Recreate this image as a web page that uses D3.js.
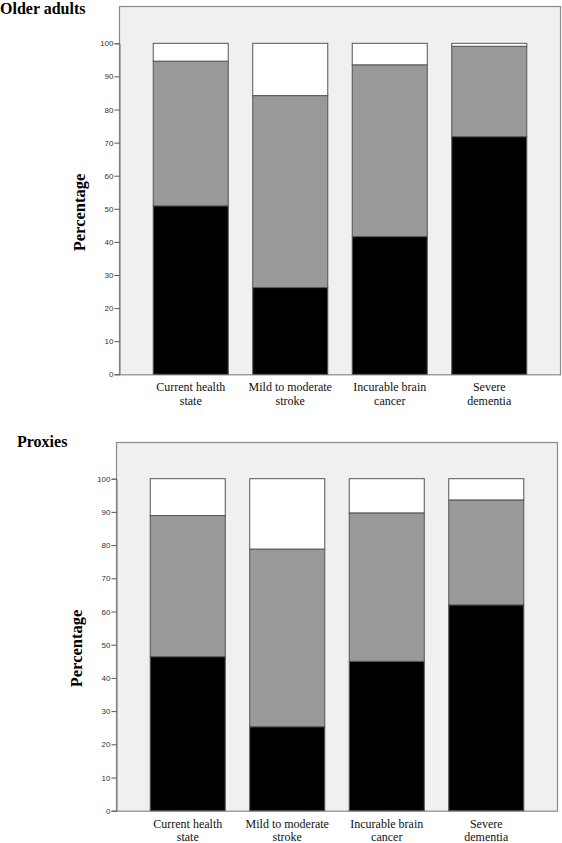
<!DOCTYPE html>
<html><head><meta charset="utf-8">
<script src="https://cdn.jsdelivr.net/npm/d3@7"></script>
<style>html,body{margin:0;padding:0;background:#fff}svg{display:block}
.serif{font-family:"Liberation Serif","Times New Roman",serif}
.sans{font-family:"Liberation Sans",Arial,sans-serif}</style>
</head><body>
<svg id="chart" width="562" height="843"></svg>
<script>
const categories = ["Current health state","Mild to moderate stroke","Incurable brain cancer","Severe dementia"];
const categoryLines = [["Current health","state"],["Mild to moderate","stroke"],["Incurable brain","cancer"],["Severe","dementia"]];
const seriesKeys = ["black","gray","white"];
const olderBlack = [50.9, 26.2, 41.6, 71.8];
const olderGray  = [43.7, 58.0, 51.9, 27.3];
const olderWhite = [5.4, 15.8, 6.5, 0.9];
const proxyBlack = [46.4, 25.3, 45.0, 62.0];
const proxyGray  = [42.5, 53.5, 44.7, 31.6];
const proxyWhite = [11.1, 21.2, 10.3, 6.4];
const yTicks = [0,10,20,30,40,50,60,70,80,90,100];
const panelTitles = ["Older adults","Proxies"];
const yLabel = "Percentage";

const svg = d3.select("#chart");
const fills = {black:"#000000", gray:"#999999", white:"#ffffff"};

function panel(cfg, title, b, g, w) {
  const rows = categories.map((c,i)=>({cat:c, black:b[i], gray:g[i], white:w[i]}));
  const stacked = d3.stack().keys(seriesKeys)(rows);
  const x = d3.scaleBand().domain(categories).range([cfg.left, cfg.right]).paddingInner(0.246).paddingOuter(0.344);
  const y = d3.scaleLinear().domain([0,100]).range([cfg.y0, cfg.y100]);
  const G = svg.append("g");
  G.append("rect").attr("x",cfg.left+0.5).attr("y",cfg.top+0.5)
    .attr("width",cfg.right-cfg.left-1).attr("height",cfg.y0-cfg.top)
    .attr("fill","#f0f0f0").attr("stroke","#8a8a8a").attr("stroke-width",1.2);
  stacked.forEach(s=>{
    G.append("g").selectAll("rect").data(s).join("rect")
      .attr("x",d=>x(d.data.cat)).attr("width",x.bandwidth())
      .attr("y",d=>y(d[1])).attr("height",d=>y(d[0])-y(d[1]))
      .attr("fill",fills[s.key]).attr("stroke","#555").attr("stroke-width",1);
  });
  const ax = G.append("g").attr("transform",`translate(${cfg.left+0.5},0)`)
    .call(d3.axisLeft(y).tickValues(yTicks).tickSize(5).tickPadding(1));
  ax.attr("font-family",null).attr("font-size",null);
  ax.select(".domain").attr("stroke","#777");
  ax.selectAll(".tick line").attr("stroke","#555");
  ax.selectAll("text").attr("class","sans").style("font-size","8px").attr("fill","#333");
  categories.forEach((c,i)=>{
    const t = G.append("text").attr("class","serif").attr("text-anchor","middle")
      .style("font-size","12px").attr("fill","#111");
    categoryLines[i].forEach((ln,j)=>{
      t.append("tspan").attr("x",x(c)+x.bandwidth()/2).attr("y",cfg.y0+17+j*13.5).text(ln);
    });
  });
  G.append("text").attr("class","serif").attr("transform",`translate(${cfg.labelX},${cfg.labelY}) rotate(-90)`)
    .attr("text-anchor","middle").style("font-weight","bold").style("font-size","16.5px").text(yLabel);
  G.append("text").attr("class","serif").attr("x",cfg.titleX).attr("y",cfg.titleY)
    .style("font-weight","bold").style("font-size","16px").text(title);
}

panel({left:119,right:561,top:6,y0:374.3,y100:43.3,labelX:85,labelY:212.5,titleX:0,titleY:14},
  panelTitles[0], olderBlack, olderGray, olderWhite);
panel({left:116,right:558,top:442,y0:810.7,y100:478.7,labelX:82,labelY:648.5,titleX:17,titleY:447},
  panelTitles[1], proxyBlack, proxyGray, proxyWhite);
</script>
</body></html>
